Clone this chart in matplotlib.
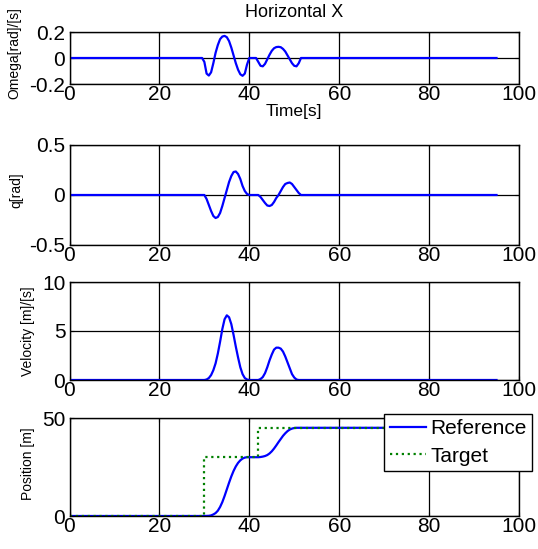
import matplotlib
matplotlib.use("Agg")
import matplotlib.pyplot as plt

plt.rcParams["font.family"] = ["Liberation Sans", "DejaVu Sans"]

# time samples [s]
time = [0, 29.5, 30, 30.5, 31, 31.5, 32, 32.5, 33, 33.5, 34, 34.5, 35, 35.5, 36,
        36.5, 37, 37.5, 38, 38.5, 39, 39.5, 40, 40.5, 41, 41.5, 42, 42.5, 43,
        43.5, 44, 44.5, 45, 45.5, 46, 46.5, 47, 47.5, 48, 48.5, 49, 49.5, 50,
        50.5, 51, 51.5, 52, 95]

omega = [0, 0, -0.03, -0.12, -0.135, -0.11, -0.04, 0.04, 0.10, 0.145, 0.165,
         0.17, 0.16, 0.13, 0.08, 0.02, -0.04, -0.09, -0.125, -0.137, -0.12,
         -0.05, 0, 0, 0, 0, -0.03, -0.06, -0.064, -0.045, -0.01, 0.025, 0.055,
         0.075, 0.084, 0.086, 0.083, 0.07, 0.05, 0.02, -0.01, -0.04, -0.06,
         -0.064, -0.04, 0, 0, 0]

q = [0, 0, 0, -0.04, -0.10, -0.16, -0.21, -0.23, -0.22, -0.18, -0.11, -0.03,
     0.05, 0.13, 0.19, 0.23, 0.235, 0.21, 0.16, 0.09, 0.04, 0.01, 0, 0, 0, 0,
     0, -0.02, -0.05, -0.08, -0.105, -0.11, -0.10, -0.07, -0.03, 0, 0.04, 0.08,
     0.11, 0.12, 0.125, 0.11, 0.08, 0.05, 0.02, 0, 0, 0]

velocity = [0, 0, 0, 0.05, 0.2, 0.5, 1.0, 1.7, 2.7, 3.9, 5.2, 6.2, 6.6, 6.4,
            5.7, 4.6, 3.4, 2.3, 1.3, 0.6, 0.2, 0.05, 0, 0, 0, 0, 0, 0.1, 0.3,
            0.7, 1.3, 2.0, 2.6, 3.1, 3.3, 3.3, 3.2, 2.9, 2.4, 1.8, 1.2, 0.6,
            0.25, 0.05, 0, 0, 0, 0]

position = [0, 0, 0, 0.05, 0.1, 0.3, 0.8, 1.5, 2.7, 4.6, 7.1, 10.2, 13.6, 17.0,
            20.2, 23.0, 25.3, 27.1, 28.4, 29.3, 29.8, 30, 30, 30, 30, 30, 30,
            30.1, 30.3, 30.6, 31.1, 31.9, 33.0, 34.4, 36.0, 37.7, 39.3, 40.9,
            42.2, 43.3, 44.1, 44.6, 44.9, 45, 45, 45, 45, 45]

target_time = [0, 30, 42, 95]
target_pos = [0, 30, 45, 45]

xticks = [0, 20, 40, 60, 80, 100]
BLUE = "#0000ff"
GREEN = "#008000"
TICK_FS = 15
LABEL_FS = 10

W, H = 538, 549
LEFT, RIGHT = 69.5, 519


def make_axes(fig, top_px, bottom_px):
    return fig.add_axes([LEFT / W, 1 - bottom_px / H, (RIGHT - LEFT) / W,
                         (bottom_px - top_px) / H])


def style(ax, yticks, ylabels, ylabel, label_px, label_y):
    ax.set_xlim(0, 100)
    ax.set_xticks(xticks)
    ax.set_xticklabels([str(v) for v in xticks])
    ax.set_ylim(yticks[0], yticks[-1])
    ax.set_yticks(yticks)
    ax.set_yticklabels(ylabels)
    ax.grid(True, color="black", linewidth=0.9, linestyle="-")
    ax.set_axisbelow(True)
    ax.tick_params(direction="in", length=3, width=0.8, labelsize=TICK_FS,
                   top=True, right=True, color="black")
    ax.tick_params(axis="x", pad=0.5)
    ax.tick_params(axis="y", pad=3)
    for sp in ax.spines.values():
        sp.set_linewidth(1.0)
        sp.set_color("black")
    ax.set_ylabel(ylabel, fontsize=LABEL_FS)
    # label position given in pixels from the figure's left edge
    ax.yaxis.set_label_coords((label_px - LEFT) / (RIGHT - LEFT), label_y)


fig = plt.figure(figsize=(W / 100, H / 100), dpi=100)

ax1 = make_axes(fig, 32, 84)
ax1.plot(time, omega, color=BLUE, linewidth=1.6)
style(ax1, [-0.2, 0, 0.2], ["-0.2", "0", "0.2"], "Omega[rad]/[s]", 21.5, 0.6)
ax1.set_title("Horizontal X", fontsize=13, pad=11)
ax1.set_xlabel("Time[s]", fontsize=12.5, labelpad=0)

ax2 = make_axes(fig, 145, 245)
ax2.plot(time, q, color=BLUE, linewidth=1.6)
style(ax2, [-0.5, 0, 0.5], ["-0.5", "0", "0.5"], "q[rad]", 23, 0.55)

ax3 = make_axes(fig, 282, 380)
ax3.plot(time, velocity, color=BLUE, linewidth=1.6)
style(ax3, [0, 5, 10], ["0", "5", "10"], "Velocity [m]/[s]", 35, 0.5)

ax4 = make_axes(fig, 418, 516)
ax4.plot(time, position, color=BLUE, linewidth=1.6, label="Reference")
ax4.plot(target_time, target_pos, color=GREEN, linewidth=1.6, linestyle=":",
         drawstyle="steps-post", label="Target")
style(ax4, [0, 50], ["0", "50"], "Position [m]", 35, 0.53)
leg = ax4.legend(loc="upper right", bbox_to_anchor=(1.029, 1.04),
                 fontsize=TICK_FS, frameon=True, fancybox=False,
                 handlelength=1.76, handletextpad=0.2, labelspacing=0.4,
                 borderpad=0.25, borderaxespad=0)
leg.get_frame().set_edgecolor("black")
leg.get_frame().set_linewidth(1.0)
leg.get_frame().set_alpha(1.0)

fig.savefig("out.png", dpi=100)
